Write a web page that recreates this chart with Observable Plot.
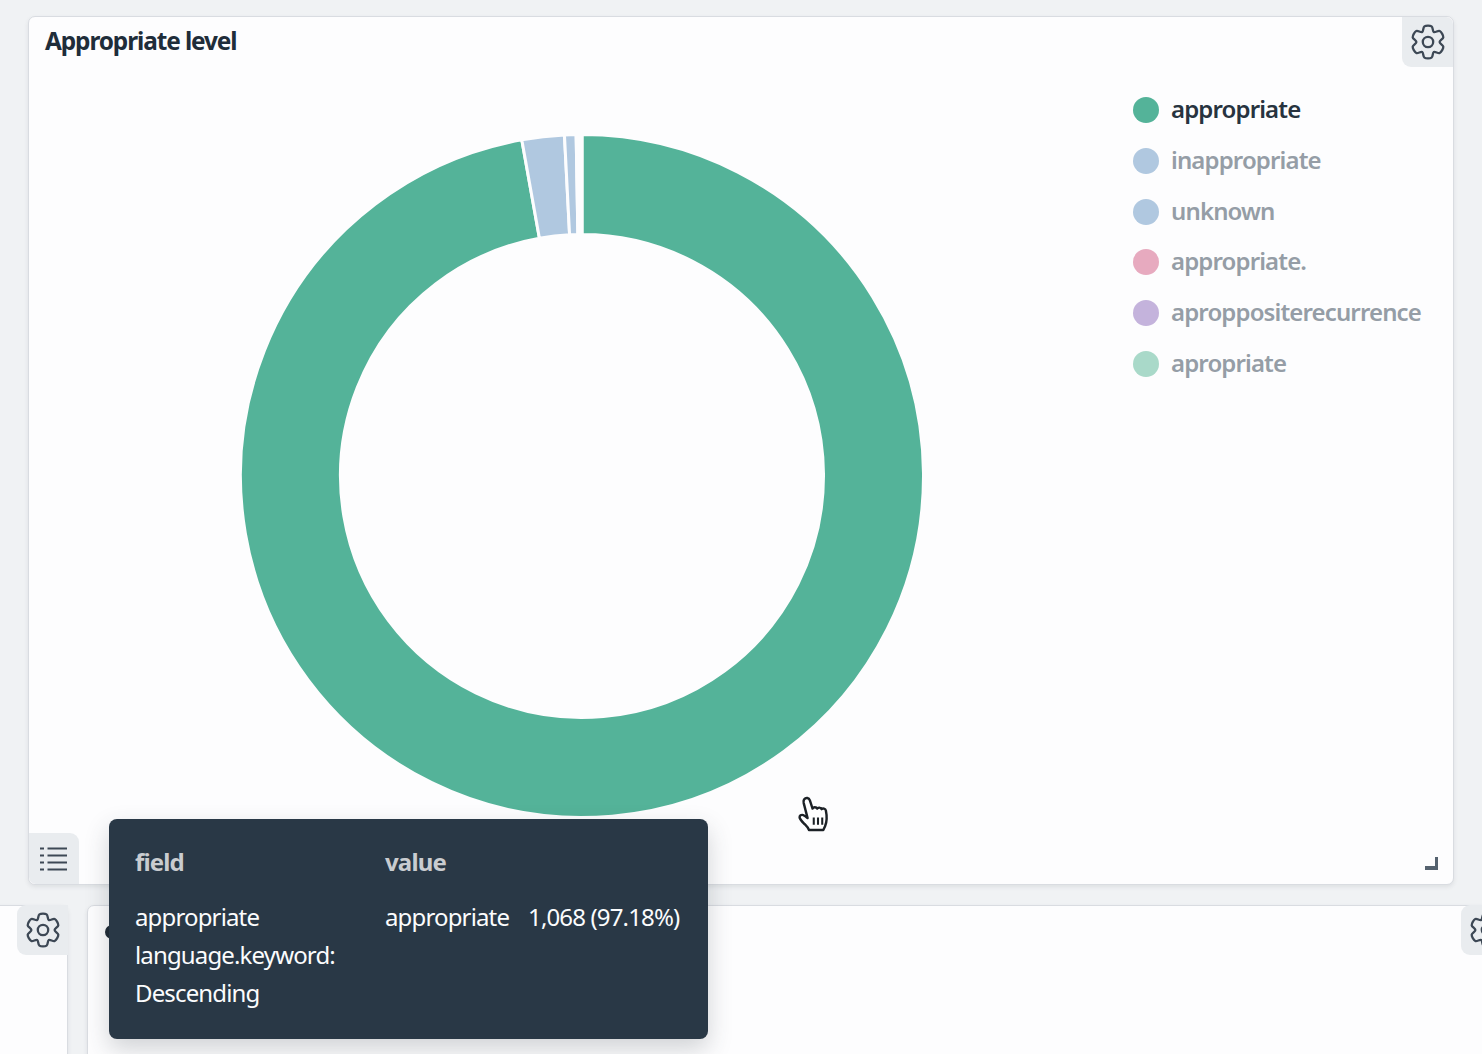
<!DOCTYPE html>
<html>
<head>
<meta charset="utf-8">
<script src="https://cdn.jsdelivr.net/npm/d3@7"></script>
<script src="https://cdn.jsdelivr.net/npm/@observablehq/plot@0.6"></script>
<style>
html,body{margin:0;padding:0;width:1482px;height:1054px;overflow:hidden;background:#f0f2f4;font-family:"Noto Sans",sans-serif;}
.abs{position:absolute;}
.panel{background:#fdfdfe;border:1px solid #d9dce1;box-sizing:border-box;box-shadow:0 2px 4px rgba(60,70,80,.10);}
.tab{background:#e9ecef;box-sizing:border-box;display:flex;align-items:center;justify-content:center;}
#title{left:45px;top:25px;font:700 24.4px/32px "Noto Sans",sans-serif;color:#1f2d3a;letter-spacing:-1.1px;white-space:nowrap;}
.leg-dot{width:26px;height:26px;border-radius:50%;left:1133px;}
.leg-txt{left:1171px;font:600 24px/32px "Noto Sans",sans-serif;letter-spacing:-.87px;color:#959da6;white-space:nowrap;}
#tooltip{left:109px;top:819px;width:599px;height:220px;background:#293846;border-radius:8px;box-shadow:0 10px 24px rgba(50,60,70,.22);color:#fbfcfd;}
.tt{font:400 24px/32px "Noto Sans",sans-serif;letter-spacing:-.85px;white-space:nowrap;}
.tth{font-weight:700;color:#c9ccd0;}
</style>
</head>
<body>
<div id="page"></div>
<script>
const categories = ["appropriate","inappropriate","unknown","appropriate.","aproppositerecurrence","apropriate"];
const counts = [1068, 22, 6, 1, 1, 1];
const colors = ["#54B399","#B0C8E0","#B0C8E0","#E7AABF","#C4B3DC","#A9D9C9"];
const legendTops = [110,161,212,262,313,364];
const tooltipRows = ["appropriate","language.keyword:","Descending"];

const total = d3.sum(counts);
const ends = d3.cumsum(counts);
const slices = categories.map((name,i)=>({name,count:counts[i],start:ends[i]-counts[i],end:ends[i]}));

const page = d3.select("#page");
const box = (cls,l,t,w,h,css="")=>page.append("div").attr("class","abs "+cls)
  .attr("style",`left:${l}px;top:${t}px;width:${w}px;height:${h}px;${css}`);

function gear(sel,size){
  const pts=[];
  for(let k=0;k<6;k++){
    const a=(k*60-90)*Math.PI/180, s=13*Math.PI/180, v=30*Math.PI/180;
    pts.push([16*Math.cos(a-s),16*Math.sin(a-s)],[16*Math.cos(a+s),16*Math.sin(a+s)],[11.6*Math.cos(a+v),11.6*Math.sin(a+v)]);
  }
  const d=d3.line().curve(d3.curveCatmullRomClosed.alpha(.5))(pts);
  const svg=sel.append("svg").attr("width",size).attr("height",size).attr("viewBox","-19 -19 38 38");
  svg.append("path").attr("d",d).attr("fill","none").attr("stroke","#3d4855").attr("stroke-width",2.3).attr("stroke-linejoin","round");
  svg.append("circle").attr("r",5.2).attr("fill","none").attr("stroke","#3d4855").attr("stroke-width",2.3);
}

// panels
box("panel",28,16,1426,869,"border-radius:7px;");
box("panel",-10,905,78,170,"border-radius:7px;");
box("panel",87,905,1420,170,"border-radius:7px;");

// tabs
gear(box("tab",1402,17,51,50,"border-radius:0 7px 0 9px;"),38);
gear(box("tab",17,905,51,50,"border-radius:9px 0 0 9px;"),38);
gear(box("tab",1461,905,51,50,"border-radius:9px 0 0 9px;justify-content:flex-start;padding-left:7px;"),38);
const listTab = box("tab",29,833,50,51,"border-radius:0 9px 0 7px;");
const ls = listTab.append("svg").attr("width",28).attr("height",26).attr("viewBox","0 0 28 26");
[3,10,17,24].forEach(y=>{
  ls.append("line").attr("x1",0).attr("x2",4).attr("y1",y-.5).attr("y2",y-.5).attr("stroke","#3d4855").attr("stroke-width",2);
  ls.append("line").attr("x1",7.5).attr("x2",27).attr("y1",y-.5).attr("y2",y-.5).attr("stroke","#3d4855").attr("stroke-width",2);
});

// resize corner
box("",1425,866,13,3.5,"background:#55626f;");
box("",1434.5,857,3.5,12,"background:#55626f;");

// title
page.append("div").attr("class","abs").attr("id","title").text("Appropriate level");

// donut
const size = 700;
const outerRadius = 341.5, innerRadius = 241.5;
const donut = Plot.plot({
  width:size,height:size,margin:0,
  x:{axis:null,domain:[0,total],range:[0,2*Math.PI]},
  y:{axis:null,domain:[0,outerRadius],range:[0,outerRadius]},
  color:{domain:categories,range:colors},
  marks:[
    Plot.rect(slices,{
      x1:"start",x2:"end",y1:()=>innerRadius,y2:()=>outerRadius,fill:"name",
      render(index,scales,ch,dim){
        const g=d3.create("svg:g").attr("transform",`translate(${dim.width/2},${dim.height/2})`);
        const arc=d3.arc();
        for(const i of index){
          g.append("path")
           .attr("d",arc({startAngle:ch.x1[i],endAngle:ch.x2[i],innerRadius:ch.y1[i],outerRadius:ch.y2[i]}))
           .attr("fill",ch.fill[i]).attr("stroke","#fdfdfe").attr("stroke-width",3);
        }
        return g.node();
      }
    })
  ],
  style:{background:"transparent",overflow:"visible"}
});
const holder = page.append("div").attr("class","abs").attr("style","left:232px;top:126px;");
holder.node().appendChild(donut);

// legend
categories.forEach((name,i)=>{
  page.append("div").attr("class","abs leg-dot").attr("style",`top:${legendTops[i]-13}px;background:${colors[i]};`);
  page.append("div").attr("class","abs leg-txt").attr("style",`top:${legendTops[i]-17}px;`+(i===0?"color:#27333f;":"")).text(name);
});

// hand cursor
page.append("div").attr("class","abs").attr("style","left:796px;top:794px;").html(
`<svg width="44" height="46" viewBox="0 0 36 38"><path d="M6.5 4.500c1.500-2 4-1.500 4.800.8l2.200 6.700c.6-1.500 3.200-1.500 3.800.1.700-1.200 3-1.100 3.600.4 1-1 3.200-.6 3.600 1.100.9 4.400 1 9-.6 12.800-.5 1.200-1 2.200-1.400 3.300H10.500c-.7-2.300-2.200-3.500-4-5.300-1.400-1.400-3.500-3.500-3.700-5-.2-1.500 1.300-2.500 3-2 1.400.4 2.500 1.400 3.600 2.500L6.200 7.500c-.2-1-.2-2.200.3-3z" fill="#fff" stroke="#1c2126" stroke-width="2" stroke-linejoin="round"/><path d="M14.500 19.500v6M18 19.500v6M21.500 19.500v6" stroke="#1c2126" stroke-width="1.700"/></svg>`);

// dark marker behind tooltip
box("",105,925,14,14,"background:#1f2a35;border-radius:50%;");

// tooltip
const tooltip = page.append("div").attr("class","abs").attr("id","tooltip");
const tt=(txt,l,t,cls="")=>tooltip.append("div").attr("class","abs tt "+cls).attr("style",`left:${l-109}px;top:${t-16-819}px;`).text(txt);
tt("field",135,862,"tth");
tt("value",385,862,"tth");
tooltipRows.forEach((r,i)=>tt(r,135,[917,955,993][i]));
tt(categories[0],385,917);
tt(d3.format(",")(counts[0])+" ("+d3.format(".2f")(counts[0]/total*100)+"%)",528,917);
</script>
</body>
</html>
